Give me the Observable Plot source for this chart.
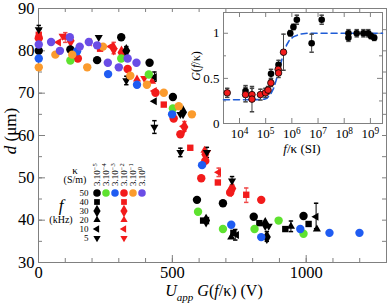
<!DOCTYPE html>
<html><head><meta charset="utf-8">
<script src="https://cdn.jsdelivr.net/npm/d3@7"></script>
<script src="https://cdn.jsdelivr.net/npm/@observablehq/plot@0.6"></script>
<style>
body{margin:0;background:#fff;}
#wrap{position:relative;width:388px;height:303px;font-family:"Liberation Serif",serif;color:#000;}
#wrap svg{position:absolute;left:0;top:0;}
.lbl{position:absolute;white-space:nowrap;transform:translate(-50%,-50%);line-height:1;}
</style></head><body><div id="wrap"></div>
<script>
// ---------- labels / categories ----------
const kappaLabels = ["3.10^-5","3.10^-4","3.10^-3","3.10^-2","3.10^-1","3.10^0"];
const kappaColors = ["#000000","#5ee22f","#1f5cf2","#f21b1b","#fb9b2d","#6a4de6"];
const freqLabels  = ["50","40","30","20","10","5"];
const xTickLabels = [0, 500, 1000];
const yTickLabels = [30, 40, 50, 60, 70, 80, 90];
const insetXTicks = [1e4, 1e5, 1e6, 1e7, 1e8, 1e9];
const insetYTickLabels = [0, 0.5, 1];

// ---------- main data: [U_app G(f/κ) (V), d (µm)] ----------
// black, κ = 3.10^-5
const black50 = [[1,80],[119,80.3],[219,77.8],[309,83.2],[415,77.2],[502,69.1],[592,44.8],[689,44],[804,40.8],[990,41]];
const black40 = [[615,39.9],[728,37],[825,39.3],[922,37.9],[1009,39.1]];
const black30 = [[328,80],[540,65.5],[626,39.9],[847,39.1],[853,36]];
const black20 = [[720,36],[729,36.8],[943,38.5],[1040,37.9]];
const black10 = [[433,73.8],[433,68.1],[629,39.9],[740,36.5],[1037,40.8]];
const black5  = [[1,85],[225,83.2],[328,73],[433,62],[530,65],[530,56],[629,56],[723,49.3],[860,38.6]];
// red, κ = 3.10^-2
const red50 = [[1,83],[147,78.2],[333,75.7],[437,70.1],[505,64],[530,60.3],[608,49.9],[623,54],[716,46.5],[832,44.8]];
const red40 = [[1,83.8],[230,80.5],[468,67.3],[567,57.1],[670,48.9],[776,46]];
const red30 = [[120,82.4],[310,79.6],[545,62],[623,55.5],[724,47.5]];
const red20 = [[100,83.2],[281,81],[368,73.3],[424,72.8],[620,56.5],[716,47.3]];
const red10 = [[75,82],[190,82],[270,81],[433,70.5],[542,62.2],[673,51.3]];
const red5  = [[90,83.5],[281,80],[395,73.5],[630,56],[720,46.5]];
// other κ, 50 kHz only
const green50  = [[119,77.7],[309,78.2],[412,74.4],[502,66.4],[596,42],[689,37.9],[807,37.9],[897,39.9],[990,36.8]];
const blue50   = [[1,78.2],[144,79.9],[260,74.5],[368,72],[499,65],[611,53],[720,38.9],[832,36],[978,37.9],[1087,37],[1199,37]];
const orange50 = [[1,76.1],[63,79.1],[126,79.1],[182,76.1],[241,81],[343,74.1],[405,72],[468,70.1],[524,66.9],[573,65]];
const purple50 = [[1,81.5],[47,82.1],[80,80],[117,83.2],[154,81],[188,82.1],[219,81.3],[259,77.2],[300,76.1],[333,78.2],[366,77.2]];
// error bars [U, low, high, colour index]
const mainErrors = [[1,84,86,0],[328,79,81,0],[328,72,74,0],[433,60.5,63.5,0],[433,72.8,75,0],[530,55,57,0],[629,54.8,57.2,0],
  [723,48.3,50.3,0],[943,37.3,39.8,0],[1037,38,44,0],[853,35,37.3,0],[735,35.3,37.8,0],
  [281,79.3,82,3],[776,44.2,47.6,3],[100,82,84.3,3],[545,61,63.3,3],[673,50.3,52.3,3]];

// ---------- inset data: [f/κ (SI), G(f/κ), error] ----------
const insetBlack = [[17000,0.36,0.06],[160000,0.55,0.05],[310000,0.65,0.05],[870000,1.0,0.03],[1150000,1.07,0.03],[1550000,1.15,0.05],
  [5700000,0.89,0.1],[13800000,1.15,0.05],[145000000,1.0,0.04],[145000000,0.95,0.04],[300000000,1.0,0.04],[540000000,1.0,0.04],
  [830000000,1.0,0.04],[1050000000,0.97,0.03],[1400000000,0.95,0.03]];
const insetRed = [[3400,0.34,0.05],[17000,0.32,0.08],[30000,0.32,0.07],[30000,0.27,0.14],[63000,0.32,0.06],[98000,0.34,0.05],
  [123000,0.37,0.04],[158000,0.45,0.04],[300000,0.6,0.05],[310000,0.56,0.05],[480000,0.79,0.2]];
const insetFit = [[2450,0.264],[30000,0.264],[63000,0.265],[89000,0.27],[112000,0.28],[158000,0.33],[200000,0.39],[251000,0.48],
  [316000,0.58],[398000,0.69],[500000,0.79],[631000,0.87],[794000,0.92],[1120000,0.96],[2000000,0.99],[4000000,1.0],[2.9e9,1.0]];

// ---------- style ----------
const W = 388, H = 303;
const axisColor = "#808080";
const serif = "Liberation Serif, serif";

function triSym(angle){ return {draw(ctx,size){ const r=Math.sqrt(size/Math.PI)*1.3;
  for(let i=0;i<3;i++){ const a=angle+i*2*Math.PI/3; const x=r*Math.sin(a), y=-r*Math.cos(a); if(i===0) ctx.moveTo(x,y); else ctx.lineTo(x,y);} ctx.closePath(); }}; }
const capSym = {draw(ctx,size){ const w=Math.sqrt(size/Math.PI); ctx.moveTo(-w,0); ctx.lineTo(w,0);} };
const shapeFor = {"50":"circle","40":"square","30":"diamond","20":triSym(0),"10":triSym(-Math.PI/2),"5":triSym(Math.PI)};
const rFor = {"50":4.2,"40":3.6,"30":4.2,"20":3.6,"10":3.6,"5":3.6};

const seriesMain = [
  [red50,3,"50"],[red40,3,"40"],[red30,3,"30"],[red20,3,"20"],[red10,3,"10"],[red5,3,"5"],
  [black50,0,"50"],[black40,0,"40"],[black30,0,"30"],[black20,0,"20"],[black10,0,"10"],[black5,0,"5"],
  [green50,1,"50"],[blue50,2,"50"],[orange50,4,"50"],[purple50,5,"50"]
];

function supers(svg){
  d3.select(svg).selectAll("text").each(function(){
    const t = this.textContent;
    if (t.includes("^")) {
      const [a,b] = t.split("^");
      const s = d3.select(this); s.text(a);
      s.append("tspan").attr("dy","-0.45em").attr("font-size","0.72em").text(b.replace("-","\u2212"));
    }
  });
}

// ---------- main plot ----------
const mL=38, mR=2, mT=8, mB=41;
const pw = W-mL-mR, ph = H-mT-mB;
const xMinor = d3.range(0, 1300, 100), yMinor = d3.range(30, 91, 5);
const errColor = i => i===3 ? "#f04848" : "#000";
const main = Plot.plot({
  width: W, height: H, marginLeft: mL, marginRight: mR, marginTop: mT, marginBottom: mB,
  style: {background:"transparent", fontFamily: serif, fontSize:"16.5px", color:"#000", overflow:"visible"},
  x: {domain:[0,1300]}, y: {domain:[30,90]},
  marks: [
    Plot.frame({stroke: axisColor}),
    Plot.ruleX(xMinor, {x: d=>d, stroke: axisColor, insetTop: ph-4}),
    Plot.ruleX(xMinor, {x: d=>d, stroke: axisColor, insetBottom: ph-4}),
    Plot.ruleX(xTickLabels, {x: d=>d, stroke: axisColor, insetTop: ph-7}),
    Plot.ruleY(yMinor, {y: d=>d, stroke: axisColor, insetRight: pw-4}),
    Plot.ruleY(yMinor, {y: d=>d, stroke: axisColor, insetLeft: pw-4}),
    Plot.ruleY(yTickLabels, {y: d=>d, stroke: axisColor, insetRight: pw-7}),
    Plot.axisX({ticks: xTickLabels, tickSize: 0, tickPadding: 4, label: null, tickFormat: d => String(d)}),
    Plot.axisY({ticks: yTickLabels, tickSize: 0, tickPadding: 4, label: null, tickFormat: d => String(d)}),
    ...[0,3].flatMap(ci => {
      const e = mainErrors.filter(d=>d[3]===ci);
      return [
        Plot.ruleX(e, {x: d=>d[0], y1: d=>d[1], y2: d=>d[2], stroke: errColor(ci), strokeWidth: 1}),
        Plot.dot(e, {x: d=>d[0], y: d=>d[1], symbol: capSym, r: 2.2, fill: "none", stroke: errColor(ci)}),
        Plot.dot(e, {x: d=>d[0], y: d=>d[2], symbol: capSym, r: 2.2, fill: "none", stroke: errColor(ci)})
      ];
    }),
    ...seriesMain.map(([data, ci, f]) => Plot.dot(data, {x: d=>d[0], y: d=>d[1], symbol: shapeFor[f], r: rFor[f], fill: kappaColors[ci], stroke: "none"}))
  ]
});
document.getElementById("wrap").appendChild(main);

// ---------- inset ----------
const iL=223, iR=6, iT=12, iB=H-123;
const ipw = W-iL-iR, iph = H-iT-iB;
const inset = Plot.plot({
  width: W, height: H, marginLeft: iL, marginRight: iR, marginTop: iT, marginBottom: iB,
  style: {background:"transparent", fontFamily: serif, fontSize:"13px", color:"#000"},
  x: {type:"log", domain:[2450, 2.9e9]}, y: {domain:[0,1.23]},
  marks: [
    Plot.frame({stroke: axisColor}),
    Plot.ruleX(insetXTicks, {x: d=>d, stroke: axisColor, insetTop: iph-5}),
    Plot.ruleX(insetXTicks, {x: d=>d, stroke: axisColor, insetBottom: iph-5}),
    Plot.ruleY([0.25,0.75], {y: d=>d, stroke: axisColor, insetRight: ipw-3}),
    Plot.ruleY([0.25,0.75], {y: d=>d, stroke: axisColor, insetLeft: ipw-3}),
    Plot.ruleY(insetYTickLabels, {y: d=>d, stroke: axisColor, insetRight: ipw-5}),
    Plot.ruleY(insetYTickLabels, {y: d=>d, stroke: axisColor, insetLeft: ipw-5}),
    Plot.axisX({ticks: insetXTicks, tickSize: 0, tickPadding: 5, label: null, tickFormat: d => "10^" + Math.round(Math.log10(d))}),
    Plot.axisY({ticks: insetYTickLabels, tickSize: 0, tickPadding: 4, label: null, tickFormat: d => String(d)}),
    Plot.line(insetFit, {x: d=>d[0], y: d=>d[1], stroke: "#1f5cd6", strokeWidth: 1.6, strokeDasharray: "6,4"}),
    ...[insetBlack, insetRed].flatMap(data => [
      Plot.ruleX(data, {x: d=>d[0], y1: d=>d[1]-d[2], y2: d=>d[1]+d[2], stroke: "#444", strokeWidth: 1}),
      Plot.dot(data, {x: d=>d[0], y: d=>d[1]-d[2], symbol: capSym, r: 2.2, fill: "none", stroke: "#444"}),
      Plot.dot(data, {x: d=>d[0], y: d=>d[1]+d[2], symbol: capSym, r: 2.2, fill: "none", stroke: "#444"})
    ]),
    Plot.dot(insetBlack, {x: d=>d[0], y: d=>d[1], r: 3.3, fill: "#000", stroke: "none"}),
    Plot.dot(insetRed, {x: d=>d[0], y: d=>d[1], r: 3.3, fill: "#f21b1b", stroke: "#000", strokeWidth: 0.8})
  ]
});
supers(inset);
document.getElementById("wrap").appendChild(inset);

// ---------- legend (κ × f grid) ----------
const legendMarks = [];
kappaLabels.forEach((k, ci) => {
  freqLabels.forEach(f => {
    if (f === "50" || ci === 0 || ci === 3)
      legendMarks.push(Plot.dot([{k, f}], {x: "k", y: "f", symbol: shapeFor[f], r: rFor[f]*0.9, fill: kappaColors[ci], stroke: "none"}));
  });
});
const legend = Plot.plot({
  width: W, height: H, marginLeft: 90, marginRight: W-148, marginTop: 187.5, marginBottom: H-242.5,
  style: {background:"transparent", fontFamily: serif, fontSize:"9px", color:"#000"},
  x: {type:"band", domain: kappaLabels, padding: 0},
  y: {type:"band", domain: freqLabels, padding: 0},
  marks: [
    Plot.axisX({anchor:"top", tickRotate: -90, tickSize: 0, tickPadding: 2, label: null}),
    Plot.axisY({tickSize: 0, tickPadding: 2, label: null}),
    ...legendMarks
  ]
});
supers(legend);
document.getElementById("wrap").appendChild(legend);

// ---------- text labels ----------
const labels = [
  {x: 214, y: 293, size: 16, html: '<i>U</i><sub style="font-size:11px"><i>app</i></sub> <i>G</i>(<i>f</i>/κ) (V)'},
  {x: 10, y: 131, size: 17, html: '<i>d</i> (μm)', rot: true},
  {x: 302, y: 148, size: 13, html: '<i>f</i>/κ (SI)'},
  {x: 196, y: 66, size: 12, html: '<i>G</i>(<i>f</i>/κ)', rot: true},
  {x: 75, y: 170, size: 11, html: 'κ'},
  {x: 75, y: 180, size: 10, html: '(S/m)'},
  {x: 61, y: 205, size: 17, html: '<i>f</i>'},
  {x: 61, y: 220, size: 10, html: '(kHz)'}
];
const wrap = document.getElementById("wrap");
labels.forEach(l => {
  const el = document.createElement("div");
  el.className = "lbl";
  el.style.left = l.x + "px"; el.style.top = l.y + "px"; el.style.fontSize = l.size + "px";
  if (l.rot) el.style.transform = "translate(-50%,-50%) rotate(-90deg)";
  el.innerHTML = l.html;
  wrap.appendChild(el);
});
</script></body></html>
